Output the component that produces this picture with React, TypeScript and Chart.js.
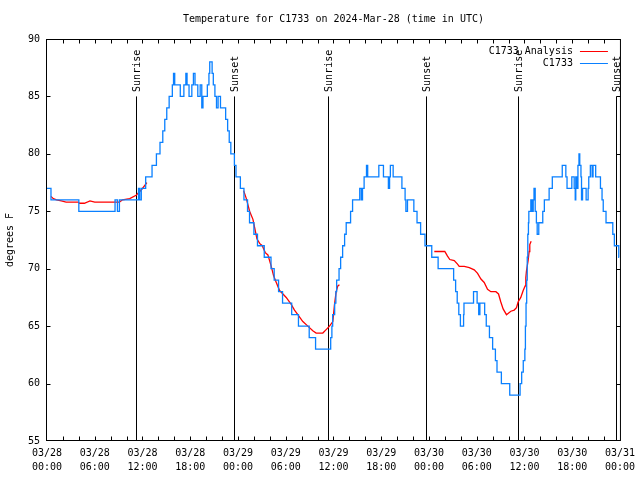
import React, { useEffect, useRef } from "react";
import { Chart, registerables } from "chart.js";

Chart.register(...registerables);

const FONT = '"DejaVu Sans Mono", "Liberation Mono", monospace';

const chartTitle = "Temperature for C1733 on 2024-Mar-28 (time in UTC)";
const yAxisTitle = "degrees F";
const seriesNames = ["C1733 Analysis", "C1733"];
const seriesColors = ["#ff0000", "#0a80ff"];

const xTickDates = ["03/28", "03/28", "03/28", "03/28", "03/29", "03/29", "03/29", "03/29", "03/30", "03/30", "03/30", "03/30", "03/31"];
const xTickTimes = ["00:00", "06:00", "12:00", "18:00", "00:00", "06:00", "12:00", "18:00", "00:00", "06:00", "12:00", "18:00", "00:00"];
const yTickLabels = ["55", "60", "65", "70", "75", "80", "85", "90"];

// hours since 03/28 00:00 UTC
const sunHours = [11.2, 23.5, 35.28, 47.57, 59.23, 71.54];
const sunLabels = ["Sunrise", "Sunset", "Sunrise", "Sunset", "Sunrise", "Sunset"];

// C1733 observations (value holds until next change)
const obsHours = [
  0, 0.5, 4.0, 8.55, 8.85, 9.1, 11.5, 11.65, 11.85, 12.4, 13.2, 13.75, 14.2, 14.55, 14.8, 15.05, 15.35, 15.75, 15.9,
  16.05, 16.75, 17.2, 17.45, 17.6, 17.85, 18.2, 18.4, 18.6, 18.95, 19.25, 19.45, 19.6, 20.15, 20.35, 20.45, 20.75,
  20.9, 21.1, 21.3, 21.5, 21.8, 22.45, 22.7, 22.9, 23.1, 23.55, 23.75, 24.3, 24.75, 25.2, 25.45, 26.0, 26.45, 27.3,
  28.15, 28.55, 29.1, 29.6, 30.75, 31.6, 32.95, 33.75, 35.65, 35.8, 35.9, 36.15, 36.3, 36.4, 36.7, 36.9, 37.15, 37.4,
  37.6, 38.15, 38.4, 39.3, 39.5, 39.65, 39.85, 40.15, 40.3, 41.7, 42.28, 42.9, 43.05, 43.15, 43.5, 44.6, 45.0, 45.1,
  45.3, 46.1, 46.5, 46.95, 47.5, 48.35, 49.15, 51.1, 51.35, 51.55, 51.75, 51.95, 52.35, 52.4, 53.6, 54.05, 54.25,
  54.4, 55.0, 55.2, 55.6, 56.0, 56.35, 56.55, 57.1, 58.15, 59.45, 59.65, 59.85, 60.05, 60.12, 60.2, 60.28, 60.35,
  60.42, 60.5, 60.55, 60.8, 60.95, 61.1, 61.2, 61.35, 61.5, 61.6, 61.8, 62.3, 62.5, 63.1, 63.5, 64.75, 65.2, 65.35,
  65.95, 66.25, 66.38, 66.45, 66.6, 66.72, 66.85, 66.95, 67.1, 67.17, 67.3, 67.75, 68.0, 68.08, 68.28, 68.5, 68.62,
  68.95, 69.55, 69.75, 69.9, 70.25, 71.1, 71.3, 71.85, 71.9,
];
const obsTemps = [
  77, 76, 75, 76, 75, 76, 77, 76, 77, 78, 79, 80, 81, 82, 83, 84, 85, 86, 87,
  86, 85, 86, 87, 86, 85, 86, 87, 86, 85, 86, 84, 85, 86, 87, 88, 87,
  86, 85, 84, 85, 84, 83, 82, 81, 80, 79, 78, 77, 76, 75, 74, 73, 72, 71,
  70, 69, 68, 67, 66, 65, 64, 63, 64, 65, 66, 67, 68, 69, 70, 71, 72, 73,
  74, 75, 76, 77, 76, 77, 78, 79, 78, 79, 78, 77, 78, 79, 78, 77, 76, 75,
  76, 75, 74, 73, 72, 71, 70, 69, 68, 67, 66, 65, 66, 67, 68, 67, 66,
  67, 66, 65, 64, 63, 62, 61, 60, 59, 60, 61, 62, 63, 65, 67, 69, 71,
  73, 74, 75, 76, 75, 76, 77, 75, 74, 73, 74, 75, 76, 77, 78, 79, 78, 77,
  78, 77, 76, 78, 77, 79, 80, 79, 78, 76, 77, 76, 77, 78, 79, 78, 79,
  78, 77, 76, 75, 74, 73, 72, 71, 71,
];

// C1733 Analysis (null = gap)
const anaHours = [
  0.5, 0.8, 1.2, 1.8, 2.4, 3.9, 4.1, 4.7, 5.4, 6.0, 9.1, 9.5, 10.4, 11.2, 11.9, 12.55,
  18,
  24.71, 25.05, 25.46, 25.88, 26.09, 26.38, 26.72, 27.05, 27.43, 27.76, 28.18, 28.47, 28.81, 29.23, 29.65, 30.06,
  30.69, 31.1, 31.52, 32.15, 32.78, 33.4, 33.82, 34.66, 35.08, 35.5, 35.92, 36.13, 36.34, 36.55, 36.75,
  42,
  48.67, 49.99, 50.33, 50.62, 51.18, 51.59, 51.8, 52.43, 53.07, 53.69, 54.11, 54.53, 54.94, 55.36, 55.78, 56.41,
  56.74, 57.03, 57.32, 57.74, 58.29, 58.71, 59.0, 59.2, 59.54, 59.84, 60.09, 60.17, 60.25, 60.46, 60.59, 60.67, 60.84,
];
const anaTemps = [
  76.3, 76.1, 76.0, 75.9, 75.8, 75.8, 75.7, 75.7, 75.9, 75.8, 75.8, 76.0, 76.1, 76.4, 76.9, 77.5,
  null,
  76.8, 76.1, 75.0, 74.3, 73.6, 72.6, 72.2, 72.0, 71.4, 71.2, 70.2, 69.4, 68.8, 68.1, 67.8, 67.5,
  66.9, 66.4, 66.0, 65.4, 65.0, 64.6, 64.4, 64.4, 64.7, 65.0, 65.4, 66.9, 68.0, 68.5, 68.6,
  null,
  71.5, 71.5, 71.1, 70.8, 70.7, 70.4, 70.2, 70.2, 70.1, 69.9, 69.6, 69.1, 68.8, 68.2, 68.0, 68.0,
  67.8, 67.1, 66.5, 66.0, 66.3, 66.4, 66.6, 67.1, 67.5, 68.1, 68.5, 69.2, 69.8, 70.7, 71.5, 72.1, 72.4,
];

const decor = {
  id: "decor",
  beforeDatasetsDraw(chart: any) {
    const { ctx, scales } = chart;
    const x = scales.x;
    const y = scales.y;
    ctx.save();
    ctx.strokeStyle = "#000";
    ctx.fillStyle = "#000";
    ctx.lineWidth = 1;
    ctx.font = `10px ${FONT}`;
    sunHours.forEach((h, i) => {
      const px = Math.round(x.getPixelForValue(h)) + 0.5;
      const yTop = y.getPixelForValue(85);
      ctx.beginPath();
      ctx.moveTo(px, y.getPixelForValue(55));
      ctx.lineTo(px, yTop);
      ctx.stroke();
      ctx.save();
      ctx.translate(px + 1, yTop - 4.5);
      ctx.rotate(-Math.PI / 2);
      ctx.textAlign = "left";
      ctx.textBaseline = "middle";
      ctx.fillText(sunLabels[i], 0, 0);
      ctx.restore();
    });
    ctx.restore();
  },
  afterDraw(chart: any) {
    const { ctx, chartArea: a, scales } = chart;
    const x = scales.x;
    const y = scales.y;
    ctx.save();
    ctx.strokeStyle = "#000";
    ctx.fillStyle = "#000";
    ctx.lineWidth = 1;
    const L = a.left - 0.5;
    const R = a.right + 0.5;
    const T = a.top + 0.5;
    const B = a.bottom - 0.5;
    ctx.strokeRect(L, T, R - L, B - T);
    const tl = 4;
    ctx.beginPath();
    for (let h = 2; h < 72; h += 2) {
      const px = Math.round(x.getPixelForValue(h)) + 0.5;
      ctx.moveTo(px, B);
      ctx.lineTo(px, B - tl);
      ctx.moveTo(px, T);
      ctx.lineTo(px, T + tl);
    }
    for (let v = 60; v < 90; v += 5) {
      const py = Math.round(y.getPixelForValue(v)) + 0.5;
      ctx.moveTo(L, py);
      ctx.lineTo(L + tl, py);
      ctx.moveTo(R, py);
      ctx.lineTo(R - tl, py);
    }
    ctx.stroke();

    ctx.font = `10px ${FONT}`;
    ctx.textBaseline = "middle";
    ctx.textAlign = "center";
    ctx.fillText(chartTitle, (a.left + a.right) / 2, 19);

    ctx.save();
    ctx.translate(10, (a.top + a.bottom) / 2);
    ctx.rotate(-Math.PI / 2);
    ctx.fillText(yAxisTitle, 0, 0);
    ctx.restore();

    chart.data.datasets.forEach((ds: any, i: number) => {
      const ly = a.top + 12 + i * 12;
      ctx.textAlign = "right";
      ctx.fillStyle = "#000";
      ctx.fillText(ds.label, a.right - 47, ly);
      ctx.strokeStyle = ds.borderColor;
      ctx.beginPath();
      ctx.moveTo(a.right - 40, Math.round(ly) + 0.5);
      ctx.lineTo(a.right - 12, Math.round(ly) + 0.5);
      ctx.stroke();
    });
    ctx.restore();
  },
};

export default function App() {
  const ref = useRef<HTMLCanvasElement>(null);
  useEffect(() => {
    const canvas = ref.current;
    if (!canvas) return;
    const chart = new Chart(canvas, {
      type: "line",
      data: {
        datasets: [
          {
            label: seriesNames[0],
            data: anaHours.map((h, i) => ({ x: h, y: anaTemps[i] })),
            borderColor: seriesColors[0],
            backgroundColor: seriesColors[0],
            borderWidth: 1.3,
            pointRadius: 0,
            tension: 0,
            spanGaps: false,
            fill: false,
            order: 1,
          },
          {
            label: seriesNames[1],
            data: obsHours.map((h, i) => ({ x: h, y: obsTemps[i] })),
            borderColor: seriesColors[1],
            backgroundColor: seriesColors[1],
            borderWidth: 1.3,
            pointRadius: 0,
            stepped: true,
            fill: false,
            order: 0,
          },
        ],
      } as any,
      options: {
        animation: false,
        responsive: false,
        devicePixelRatio: 1,
        layout: { padding: { left: 0, right: 19, top: 39, bottom: 0 } },
        plugins: { legend: { display: false }, tooltip: { enabled: false }, title: { display: false } },
        scales: {
          x: {
            type: "linear",
            min: 0,
            max: 72,
            grid: { display: false, drawTicks: false, tickLength: 0 },
            border: { display: false },
            afterFit: (s: any) => {
              s.height = 39;
            },
            ticks: {
              stepSize: 6,
              autoSkip: false,
              maxRotation: 0,
              minRotation: 0,
              padding: 5,
              color: "#000",
              font: { family: FONT, size: 10, lineHeight: 1.4 },
              callback: (v: any) => {
                const i = Math.round(Number(v) / 6);
                return [xTickDates[i], xTickTimes[i]];
              },
            },
          },
          y: {
            type: "linear",
            min: 55,
            max: 90,
            grid: { display: false, drawTicks: false, tickLength: 0 },
            border: { display: false },
            afterFit: (s: any) => {
              s.width = 47;
            },
            ticks: {
              stepSize: 5,
              padding: 7,
              color: "#000",
              font: { family: FONT, size: 10 },
              callback: (v: any) => yTickLabels[Math.round((Number(v) - 55) / 5)],
            },
          },
        },
      } as any,
      plugins: [decor],
    });
    return () => chart.destroy();
  }, []);
  return (
    <div style={{ position: "absolute", left: 0, top: 0, width: 640, height: 480, background: "#fff" }}>
      <canvas ref={ref} width={640} height={480} style={{ display: "block" }} />
    </div>
  );
}
